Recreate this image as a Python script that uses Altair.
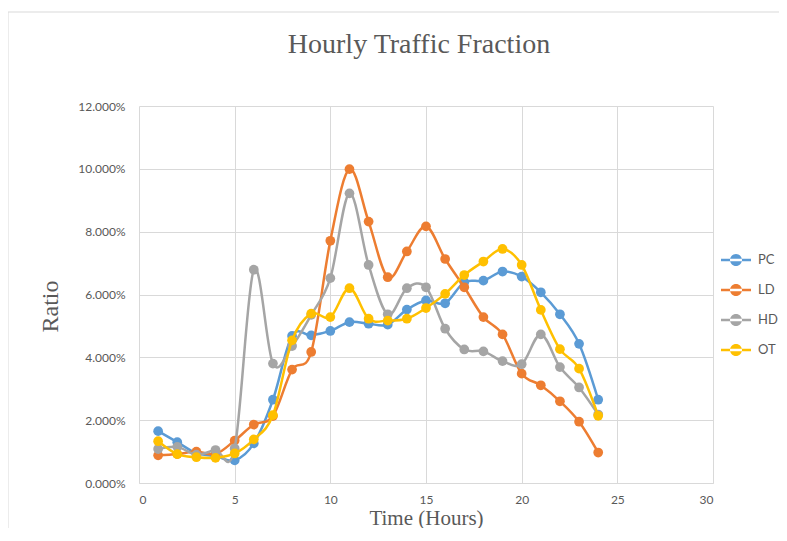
import altair as alt
import pandas as pd

hours = list(range(1, 25))
series_names = ["PC", "LD", "HD", "OT"]
colors = ["#5B9BD5", "#ED7D31", "#A5A5A5", "#FFC000"]
chart_title = ["Hourly Traffic Fraction"]

pc = [1.65, 1.30, 0.95, 0.86, 0.72, 1.26, 2.65, 4.68, 4.70, 4.84, 5.12, 5.07,
      5.04, 5.52, 5.81, 5.72, 6.39, 6.44, 6.73, 6.57, 6.07, 5.37, 4.43, 2.65]
ld = [0.88, 0.92, 1.00, 0.92, 1.35, 1.86, 2.13, 3.61, 4.17, 7.71, 9.99, 8.32,
      6.55, 7.37, 8.17, 7.13, 6.23, 5.28, 4.73, 3.48, 3.11, 2.60, 1.95, 0.97]
hd = [1.08, 1.15, 0.90, 1.05, 1.10, 6.79, 3.80, 4.36, 5.35, 6.52, 9.22, 6.94,
      5.37, 6.20, 6.23, 4.91, 4.25, 4.19, 3.88, 3.78, 4.73, 3.69, 3.04, 2.18]
ot = [1.33, 0.92, 0.82, 0.80, 0.94, 1.39, 2.16, 4.54, 5.39, 5.28, 6.20, 5.23,
      5.17, 5.23, 5.57, 6.02, 6.62, 7.05, 7.45, 6.94, 5.51, 4.26, 3.64, 2.14]

values = {"PC": pc, "LD": ld, "HD": hd, "OT": ot}
rows = []
for name in series_names:
    for h, v in zip(hours, values[name]):
        rows.append({"Hour": h, "Ratio": v / 100.0, "Series": name})
df = pd.DataFrame(rows)

x_enc = alt.X("Hour:Q",
              scale=alt.Scale(domain=[0, 30], nice=False),
              axis=alt.Axis(values=[0, 5, 10, 15, 20, 25, 30], title="Time (Hours)",
                            titleX=287, titleY=41, titleBaseline="alphabetic",
                            titleFontSize=21))
y_enc = alt.Y("Ratio:Q",
              scale=alt.Scale(domain=[0, 0.12], nice=False),
              axis=alt.Axis(values=[0, 0.02, 0.04, 0.06, 0.08, 0.10, 0.12], format=".3%",
                            title="Ratio", titleX=-82, titleY=200, titleAngle=-90,
                            titleBaseline="alphabetic", titleAlign="center"))
legend_path = ("M-1,-0.08L1,-0.08L1,0.08L-1,0.08Z "
               "M-0.4,0A0.4,0.4 0 1,0 0.4,0A0.4,0.4 0 1,0 -0.4,0Z")
color_enc = alt.Color("Series:N",
                      scale=alt.Scale(domain=series_names, range=colors),
                      legend=alt.Legend(title=None, orient="none", legendX=582, legendY=139,
                                        symbolType=legend_path, symbolSize=900,
                                        symbolStrokeWidth=0, rowPadding=8,
                                        labelFont="Lato", labelFontSize=13,
                                        labelColor="#595959", labelOffset=7))

frame = alt.Chart(pd.DataFrame({"a": [0]})).mark_rect(
    fill="transparent", stroke="#D9D9D9", strokeWidth=1, clip=False
).encode(x=alt.value(-131), x2=alt.value(700), y=alt.value(-94), y2=alt.value(600))

title_mark = alt.Chart(pd.DataFrame({"t": chart_title})).mark_text(
    font="Liberation Serif", fontSize=28, color="#595959", align="center",
    baseline="alphabetic", clip=False
).encode(text="t:N", x=alt.value(280), y=alt.value(-53))

layers = [frame, title_mark]
for name in series_names:
    base = alt.Chart(df).transform_filter(alt.datum.Series == name)
    line = base.mark_line(interpolate="cardinal", strokeWidth=2.5).encode(
        x=x_enc, y=y_enc, color=color_enc)
    pts = base.mark_point(filled=True, size=95, opacity=1).encode(
        x=x_enc, y=y_enc, color=color_enc)
    layers += [line, pts]

chart = alt.layer(*layers).properties(
    width=574, height=377,
    autosize=alt.AutoSizeParams(type="none"),
    padding={"left": 131, "top": 98, "right": 66, "bottom": 45},
).configure_view(stroke=None).configure_axis(
    grid=True, gridColor="#D9D9D9", gridWidth=1, domain=False, ticks=False,
    labelFont="Lato", labelFontSize=12, labelColor="#595959",
    titleFont="Liberation Serif", titleFontSize=24, titleFontWeight="normal",
    titleColor="#595959"
).configure_axisX(domain=True, domainColor="#D9D9D9", labelPadding=11
).configure_axisY(labelPadding=14)

chart.save("out.html", embed_options={"renderer": "svg", "actions": False})
